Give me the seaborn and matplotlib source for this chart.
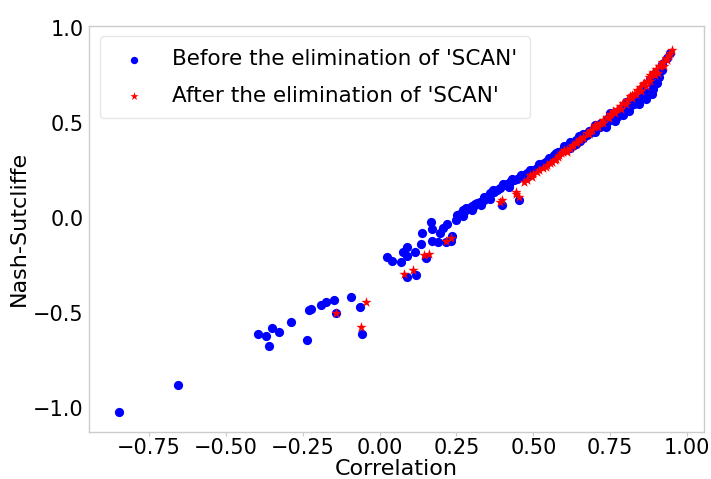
import matplotlib
matplotlib.use("Agg")
import matplotlib.pyplot as plt
import seaborn as sns
import pandas as pd

# ---- data ----
before_x = [
    -0.846, -0.654,
    -0.395, -0.370, -0.361, -0.351, -0.326, -0.288, -0.235, -0.230, -0.224,
    -0.189, -0.173, -0.148, -0.143, -0.092, -0.063, -0.058,
    0.023, 0.040, 0.071, 0.076, 0.090, 0.090, 0.089, 0.118, 0.116, 0.135,
    0.137, 0.152, 0.166, 0.170, 0.172, 0.190, 0.195, 0.205, 0.216, 0.233,
    0.237, 0.252, 0.250,
    0.262, 0.275, 0.285, 0.295, 0.305, 0.317, 0.328, 0.339, 0.350, 0.360,
    0.371, 0.382, 0.393, 0.404, 0.415, 0.425, 0.437, 0.447, 0.458, 0.469,
    0.480, 0.490, 0.500, 0.512, 0.523, 0.535, 0.545, 0.555, 0.566, 0.575,
    0.585, 0.598, 0.609, 0.620, 0.631, 0.640, 0.652, 0.663, 0.674, 0.685,
    0.696, 0.707, 0.718, 0.728, 0.740, 0.750, 0.761, 0.772, 0.782, 0.793,
    0.804, 0.815, 0.826, 0.837, 0.848, 0.858, 0.869, 0.880, 0.890, 0.902,
    0.910, 0.920, 0.934, 0.943,
    0.600, 0.650, 0.700, 0.750, 0.800, 0.850, 0.880, 0.900, 0.920,
    0.398, 0.452, 0.220, 0.270, 0.300,
    0.620, 0.640, 0.660, 0.680, 0.700, 0.720, 0.740, 0.760, 0.780, 0.800,
    0.820, 0.840, 0.860, 0.870, 0.890,
    0.700, 0.735, 0.765, 0.790, 0.810, 0.845, 0.865, 0.885,
    0.280, 0.310, 0.340, 0.370, 0.400, 0.430, 0.460, 0.490, 0.520, 0.550,
    0.580, 0.270, 0.300, 0.330, 0.360, 0.420, 0.480,
]
before_y = [
    -1.020, -0.880,
    -0.610, -0.620, -0.672, -0.579, -0.600, -0.549, -0.640, -0.484, -0.479,
    -0.458, -0.444, -0.430, -0.498, -0.414, -0.467, -0.610,
    -0.204, -0.226, -0.233, -0.179, -0.154, -0.198, -0.312, -0.300, -0.181, -0.137,
    -0.081, -0.211, -0.023, -0.060, -0.119, -0.125, -0.077, -0.054, -0.125, -0.121,
    -0.095, 0.016, -0.010,
    0.020, 0.030, 0.045, 0.051, 0.060, 0.077, 0.085, 0.095, 0.110, 0.130,
    0.138, 0.150, 0.160, 0.174, 0.180, 0.191, 0.200, 0.207, 0.215, 0.226,
    0.235, 0.245, 0.255, 0.265, 0.279, 0.290, 0.300, 0.310, 0.332, 0.340,
    0.350, 0.358, 0.375, 0.370, 0.384, 0.390, 0.405, 0.420, 0.437, 0.445,
    0.460, 0.472, 0.480, 0.498, 0.505, 0.515, 0.525, 0.533, 0.550, 0.560,
    0.577, 0.590, 0.600, 0.612, 0.625, 0.638, 0.650, 0.665, 0.680, 0.712,
    0.740, 0.780, 0.840, 0.867,
    0.380, 0.430, 0.490, 0.550, 0.610, 0.680, 0.730, 0.770, 0.810,
    0.068, 0.096, -0.030, 0.040, 0.065,
    0.400, 0.410, 0.440, 0.460, 0.470, 0.500, 0.520, 0.540, 0.565, 0.585,
    0.600, 0.620, 0.645, 0.660, 0.700,
    0.455, 0.480, 0.510, 0.540, 0.565, 0.600, 0.625, 0.655,
    0.055, 0.075, 0.110, 0.150, 0.180, 0.205, 0.225, 0.255, 0.285, 0.315,
    0.345, 0.010, 0.040, 0.070, 0.100, 0.165, 0.215,
]

after_x = [
    -0.143, -0.059, -0.043,
    0.081, 0.110, 0.144, 0.161, 0.216, 0.231,
    0.398, 0.393, 0.442, 0.452, 0.445, 0.480, 0.495, 0.512, 0.530, 0.545,
    0.555, 0.571, 0.585, 0.598, 0.609, 0.620, 0.630, 0.642, 0.653, 0.663,
    0.674, 0.685, 0.696, 0.707, 0.718, 0.728, 0.739, 0.750, 0.761, 0.772,
    0.782, 0.793, 0.804, 0.815, 0.826, 0.837, 0.848, 0.858, 0.869, 0.875,
    0.880, 0.890, 0.900, 0.912, 0.920, 0.930, 0.940, 0.950,
    0.700, 0.760, 0.820, 0.860, 0.890, 0.910, 0.650, 0.600, 0.580, 0.540,
    0.500, 0.470,
    0.610, 0.625, 0.640, 0.660, 0.680, 0.690, 0.710, 0.725, 0.745, 0.765,
    0.785, 0.800, 0.820, 0.835, 0.850, 0.865, 0.880, 0.895, 0.905, 0.925,
    0.935, 0.945, 0.560, 0.520, 0.490, 0.575, 0.590,
]
after_y = [
    -0.498, -0.575, -0.444,
    -0.296, -0.274, -0.196, -0.191, -0.120, -0.104,
    0.095, 0.086, 0.138, 0.112, 0.125, 0.200, 0.215, 0.244, 0.262, 0.280,
    0.289, 0.305, 0.330, 0.345, 0.349, 0.370, 0.385, 0.402, 0.415, 0.428,
    0.448, 0.460, 0.477, 0.490, 0.500, 0.515, 0.530, 0.545, 0.560, 0.575,
    0.590, 0.605, 0.620, 0.640, 0.655, 0.672, 0.690, 0.705, 0.720, 0.740,
    0.755, 0.770, 0.785, 0.800, 0.820, 0.840, 0.860, 0.884,
    0.490, 0.565, 0.645, 0.710, 0.765, 0.800, 0.410, 0.360, 0.320, 0.270,
    0.230, 0.190,
    0.360, 0.380, 0.395, 0.420, 0.440, 0.465, 0.480, 0.500, 0.525, 0.550,
    0.575, 0.600, 0.630, 0.650, 0.670, 0.695, 0.720, 0.750, 0.765, 0.800,
    0.830, 0.870, 0.295, 0.255, 0.225, 0.310, 0.340,
]

label_before = "Before the elimination of 'SCAN'"
label_after = "After the elimination of 'SCAN'"
xlabel = "Correlation"
ylabel = "Nash-Sutcliffe"

df_before = pd.DataFrame({"x": before_x, "y": before_y})
df_after = pd.DataFrame({"x": after_x, "y": after_y})

sns.set_theme(style="whitegrid")
plt.rcParams["font.family"] = ["DejaVu Sans"]
plt.rcParams["text.color"] = "black"
plt.rcParams["axes.labelcolor"] = "black"

fig = plt.figure(figsize=(7.11, 4.79), dpi=100)
ax = fig.add_axes([89 / 711, 1 - 432 / 479, (704 - 89) / 711, (432 - 25.7) / 479])

sns.scatterplot(data=df_before, x="x", y="y", color="blue", marker="o",
                s=44, linewidth=0, label=label_before, ax=ax, zorder=2)
sns.scatterplot(data=df_after, x="x", y="y", color="red", marker="*",
                s=60, linewidth=0, label=label_after, ax=ax, zorder=3)

ax.grid(False)
ax.set_xlim(-0.945, 1.055)
ax.set_ylim(-1.126, 1.012)
ax.set_xticks([-0.75, -0.5, -0.25, 0.0, 0.25, 0.5, 0.75, 1.0])
ax.set_yticks([-1.0, -0.5, 0.0, 0.5, 1.0])
ax.set_xlabel(xlabel, fontsize=16, labelpad=1, color="black")
ax.set_ylabel(ylabel, fontsize=16, labelpad=3, color="black")
ax.tick_params(axis="both", labelsize=15, labelcolor="black",
               bottom=True, left=False, length=3, width=0.8)
ax.tick_params(axis="x", color="0.8", pad=1)
ax.tick_params(axis="y", pad=1)
for sp in ax.spines.values():
    sp.set_color("0.8")
    sp.set_linewidth(1.0)

leg = ax.legend(loc="upper left", fontsize=15.5, frameon=True,
                markerscale=0.8, borderpad=0.6, labelspacing=0.75,
                handletextpad=0.75, borderaxespad=0.5,
                bbox_to_anchor=(0.0, 1.0))
leg.get_frame().set_edgecolor("0.88")
for t in leg.get_texts():
    t.set_color("black")

fig.savefig("out.png", dpi=100)
